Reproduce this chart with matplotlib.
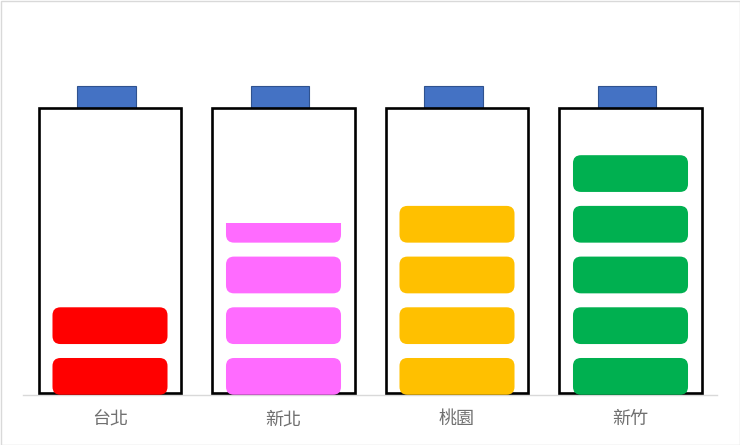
import math
import matplotlib
matplotlib.use("Agg")
import matplotlib.pyplot as plt
from matplotlib.patches import FancyBboxPatch, Rectangle

plt.rcParams['font.family'] = ['Noto Sans CJK TC', 'DejaVu Sans']

# data
cities = ['台北', '新北', '桃園', '新竹']
levels = [2, 3.4, 4, 5]
fill_colors = ['#FF0000', '#FF6BFF', '#FFC000', '#00B050']
capacity = 5.67

# geometry (in data units)
battery_w = 0.824
seg_w = 0.663
seg_h = 0.73
cap_w = 0.338
cap_h = 0.43
cap_shift = -0.02
ymax = 7.0

W, H = 740, 445
fig = plt.figure(figsize=(W / 100, H / 100), dpi=100)
ax_left, ax_bottom = 23.25 / W, 50 / H
ax_w, ax_h = 694 / W, ymax * 50.7 / H
ax = fig.add_axes([ax_left, ax_bottom, ax_w, ax_h])
ax.set_xlim(-0.5, len(cities) - 0.5)
ax.set_ylim(0, ymax)

# pixel scale per data unit, used to keep rounded corners circular
px_x = ax_w * W / len(cities)
px_y = ax_h * H / ymax
aspect = px_x / px_y
radius = 8 / px_x

for i, (lvl, col) in enumerate(zip(levels, fill_colors)):
    # battery cap
    cap = Rectangle((i + cap_shift - cap_w / 2, capacity), cap_w, cap_h,
                    facecolor='#4472C4', edgecolor='#2F528F', lw=0.8, zorder=1)
    ax.add_patch(cap)
    # battery body
    body = Rectangle((i - battery_w / 2, 0.045), battery_w, capacity - 0.045,
                     facecolor='white', edgecolor='black', lw=1.9, zorder=2)
    ax.add_patch(body)
    # charge segments
    clip = Rectangle((i - battery_w / 2, 0), battery_w, lvl,
                     transform=ax.transData, visible=False)
    ax.add_patch(clip)
    for k in range(math.ceil(lvl)):
        seg = FancyBboxPatch((i - seg_w / 2, k + 0.005), seg_w, seg_h - 0.005,
                             boxstyle=f"round,pad=0,rounding_size={radius}",
                             mutation_aspect=aspect,
                             facecolor=col, edgecolor='none', zorder=3)
        ax.add_patch(seg)
        seg.set_clip_path(clip)

ax.set_xticks(range(len(cities)))
ax.set_xticklabels(cities, fontsize=13, color='#707070', fontweight='light')
ax.tick_params(axis='x', length=0, pad=11)
ax.set_yticks([])
for side in ['top', 'left', 'right']:
    ax.spines[side].set_visible(False)
ax.spines['bottom'].set_color('#D9D9D9')
ax.spines['bottom'].set_linewidth(1)
ax.spines['bottom'].set_zorder(0)

# light frame around the whole picture
fig.patches.append(Rectangle((0.5 / W, 0.5 / H), 1 - 1 / W, 1 - 1 / H,
                             transform=fig.transFigure, fill=False,
                             edgecolor='#D9D9D9', lw=1))

fig.savefig('out.png', dpi=100)
